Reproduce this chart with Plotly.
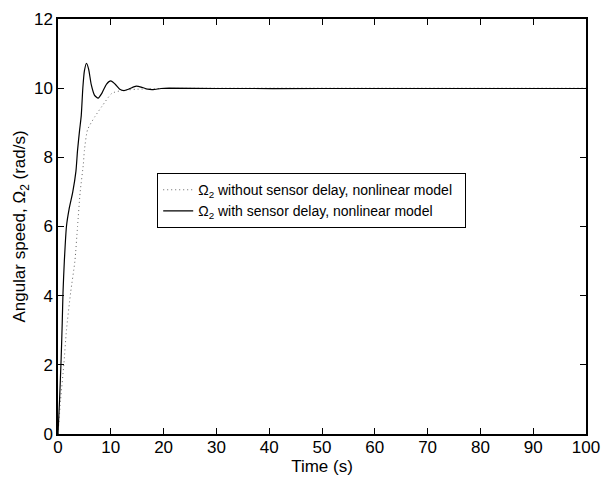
import plotly.graph_objects as go

# Solid: with sensor delay
t_delay = [0, 0.3, 0.6, 0.8, 0.95, 1.2, 1.6, 2.1, 2.8, 3.4, 3.7, 4.1, 4.4, 4.7, 5.0, 5.4, 5.8, 6.3, 6.9, 7.6,
           8.3, 9.2, 10.0, 10.8, 11.7, 12.5, 13.5, 14.8, 16.0, 17.0, 18.0, 19.5, 21.0, 30, 50, 100]
w_delay = [0, 1.0, 2.2, 3.2, 4.1, 5.0, 6.0, 6.5, 7.0, 7.6, 8.2, 8.8, 9.2, 10.0, 10.5, 10.72, 10.55, 10.1, 9.8, 9.71,
           9.85, 10.12, 10.21, 10.12, 9.97, 9.93, 9.98, 10.06, 10.02, 9.97, 9.96, 9.99, 10.0, 9.99, 9.99, 9.99]

# Dotted: without sensor delay
t_nodelay = [0, 0.5, 1.1, 1.6, 2.4, 3.2, 3.7, 4.2, 4.8, 5.0, 5.6, 7.0, 8.3, 10.2, 12.0, 15.0, 20.0, 30, 100]
w_nodelay = [0, 1.0, 2.0, 3.0, 4.1, 5.0, 6.0, 7.0, 7.8, 8.2, 8.8, 9.18, 9.47, 9.85, 9.93, 9.97, 9.99, 10.0, 10.0]

x_ticks = [0, 10, 20, 30, 40, 50, 60, 70, 80, 90, 100]
y_ticks = [0, 2, 4, 6, 8, 10, 12]

FONT = "Liberation Sans, Arial, Helvetica, sans-serif"
NB = "\u00a0\u00a0"

fig = go.Figure()
fig.add_trace(go.Scatter(
    x=t_nodelay, y=w_nodelay, mode="lines",
    line=dict(color="#666666", width=1, dash="1px,3px", shape="spline", smoothing=0.6),
    name="Ω<sub>2</sub> without sensor delay, nonlinear model" + NB))
fig.add_trace(go.Scatter(
    x=t_delay, y=w_delay, mode="lines",
    line=dict(color="black", width=1.2, shape="spline", smoothing=0.6),
    name="Ω<sub>2</sub> with sensor delay, nonlinear model" + NB))

axis_common = dict(
    showgrid=False, zeroline=False, showline=True, linecolor="black", linewidth=1.5,
    mirror="ticks", ticks="inside", ticklen=6, tickwidth=1, tickcolor="black",
    tickfont=dict(family=FONT, size=17, color="black"), automargin=False,
)

fig.update_layout(
    width=611, height=480,
    margin=dict(l=58, r=25, t=19, b=46),
    paper_bgcolor="white", plot_bgcolor="white",
    font=dict(family=FONT, color="black"),
    xaxis=dict(range=[0, 100], tickvals=x_ticks, ticktext=[str(v) for v in x_ticks],
               ticklabelstandoff=-3,
               title=dict(text="Time (s)", font=dict(family=FONT, size=17), standoff=0), **axis_common),
    yaxis=dict(range=[0, 12], tickvals=y_ticks, ticktext=[str(v) for v in y_ticks],
               title=dict(text="Angular speed, Ω<sub>2</sub> (rad/s)", font=dict(family=FONT, size=17), standoff=4),
               **axis_common),
    legend=dict(x=0.1875, y=0.629, xanchor="left", yanchor="top",
                bgcolor="white", bordercolor="black", borderwidth=1.2,
                font=dict(family=FONT, size=14, color="black"),
                tracegroupgap=0, itemwidth=30),
    showlegend=True,
)

fig.write_html("out.html")
